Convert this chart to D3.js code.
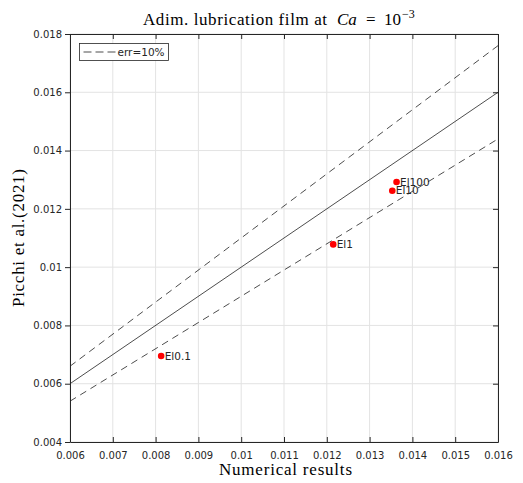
<!DOCTYPE html>
<html>
<head>
<meta charset="utf-8">
<script src="https://cdn.jsdelivr.net/npm/d3@7"></script>
<style>
  body { margin: 0; background: #fff; }
  svg { display: block; }
</style>
</head>
<body>
<div id="chart"></div>
<script>
// data
const caseLabels = ['El0.1', 'El1', 'El10', 'El100'];
const numericalResults = [0.00813, 0.01215, 0.01353, 0.01363];
const picchiResults = [0.00695, 0.01078, 0.01262, 0.01292];
const xTicks = [0.006, 0.007, 0.008, 0.009, 0.01, 0.011, 0.012, 0.013, 0.014, 0.015, 0.016];
const yTicks = [0.004, 0.006, 0.008, 0.01, 0.012, 0.014, 0.016, 0.018];
const errBand = 0.1;

const width = 523, height = 483;
const margin = { top: 34, right: 25, bottom: 41, left: 70 };
const innerW = width - margin.left - margin.right;
const innerH = height - margin.top - margin.bottom;
const axisColor = '#262626';
const tickFont = 'DejaVu Sans, sans-serif';
const serifFont = 'Liberation Serif, DejaVu Serif, serif';

const svg = d3.select('#chart').append('svg')
  .attr('width', width)
  .attr('height', height);

const g = svg.append('g')
  .attr('transform', `translate(${margin.left},${margin.top})`);

const x = d3.scaleLinear().domain([0.006, 0.016]).range([0, innerW]);
const y = d3.scaleLinear().domain([0.004, 0.018]).range([innerH, 0]);

// grid
g.append('g').selectAll('line').data(xTicks).enter().append('line')
  .attr('x1', d => x(d)).attr('x2', d => x(d))
  .attr('y1', 0).attr('y2', innerH)
  .attr('stroke', '#e3e3e3').attr('stroke-width', 1);
g.append('g').selectAll('line').data(yTicks).enter().append('line')
  .attr('y1', d => y(d)).attr('y2', d => y(d))
  .attr('x1', 0).attr('x2', innerW)
  .attr('stroke', '#e3e3e3').attr('stroke-width', 1);

// reference lines y = x and +/- 10%
const xs = x.domain();
const line = d3.line().x(d => x(d[0])).y(d => y(d[1]));
g.append('path')
  .datum(xs.map(v => [v, v]))
  .attr('d', line).attr('fill', 'none')
  .attr('stroke', '#000').attr('stroke-width', 0.7);
[1 + errBand, 1 - errBand].forEach(k => {
  g.append('path')
    .datum(xs.map(v => [v, v * k]))
    .attr('d', line).attr('fill', 'none')
    .attr('stroke', '#000').attr('stroke-width', 0.7)
    .attr('stroke-dasharray', '7,5');
});

// axes
const fmt = d => String(+d.toFixed(4));
const xAxis = g.append('g')
  .attr('transform', `translate(0,${innerH})`)
  .call(d3.axisBottom(x).tickValues(xTicks).tickFormat(fmt).tickSizeInner(-5).tickSizeOuter(0).tickPadding(10));
const xTop = g.append('g')
  .call(d3.axisTop(x).tickValues(xTicks).tickFormat('').tickSizeInner(-5).tickSizeOuter(0));
const yAxis = g.append('g')
  .call(d3.axisLeft(y).tickValues(yTicks).tickFormat(fmt).tickSizeInner(5).tickSizeOuter(0).tickPadding(3));
const yRight = g.append('g')
  .attr('transform', `translate(${innerW},0)`)
  .call(d3.axisRight(y).tickValues(yTicks).tickFormat('').tickSizeInner(-5).tickSizeOuter(0));

[xAxis, xTop, yAxis, yRight].forEach(a => {
  a.select('.domain').attr('stroke', axisColor).attr('stroke-width', 1);
  a.selectAll('.tick line').attr('stroke', axisColor).attr('stroke-width', 1);
  a.selectAll('.tick text')
    .attr('fill', axisColor)
    .style('font-family', tickFont)
    .style('font-size', '10px');
});
xAxis.selectAll('.tick text').attr('dy', '0.71em');

// points
const points = caseLabels.map((c, i) => ({ c, nx: numericalResults[i], py: picchiResults[i] }));
g.append('g').selectAll('circle')
  .data(points)
  .enter().append('circle')
  .attr('cx', d => x(d.nx))
  .attr('cy', d => y(d.py))
  .attr('r', 3.3)
  .attr('fill', '#ff0000');

g.append('g').selectAll('text')
  .data(points)
  .enter().append('text')
  .attr('x', d => x(d.nx) + 3.5)
  .attr('y', d => y(d.py))
  .attr('dy', '0.35em')
  .attr('fill', axisColor)
  .style('font-family', tickFont)
  .style('font-size', '10.5px')
  .text(d => d.c);

// legend
const lg = g.append('g').attr('transform', 'translate(9.5,9.5)');
lg.append('rect')
  .attr('width', 89).attr('height', 17)
  .attr('fill', '#fff').attr('stroke', axisColor).attr('stroke-width', 0.8);
lg.append('line')
  .attr('x1', 4).attr('x2', 37).attr('y1', 8.5).attr('y2', 8.5)
  .attr('stroke', '#000').attr('stroke-width', 0.7)
  .attr('stroke-dasharray', '8,4');
lg.append('text')
  .attr('x', 38).attr('y', 8.5).attr('dy', '0.35em')
  .attr('fill', axisColor)
  .style('font-family', tickFont)
  .style('font-size', '10.5px')
  .text('err=10%');

// title (LaTeX-style, wide serif)
const title = svg.append('text')
  .attr('y', 25)
  .attr('fill', '#000')
  .style('font-family', serifFont)
  .style('font-size', '17px');
title.append('tspan').attr('x', 143)
  .attr('textLength', 184).attr('lengthAdjust', 'spacing')
  .text('Adim. lubrication film at');
title.append('tspan').attr('x', 337).style('font-style', 'italic').text('Ca');
title.append('tspan').attr('x', 366).text('=');
title.append('tspan').attr('x', 384).text('10');
title.append('tspan').attr('x', 402).attr('dy', -7).style('font-size', '12px').text('\u22123');

svg.append('text')
  .attr('x', 219)
  .attr('y', 475)
  .attr('textLength', 133).attr('lengthAdjust', 'spacing')
  .attr('fill', '#000')
  .style('font-family', serifFont)
  .style('font-size', '17px')
  .text('Numerical results');

svg.append('text')
  .attr('transform', `translate(24,${margin.top + innerH / 2 + 69}) rotate(-90)`)
  .attr('textLength', 138).attr('lengthAdjust', 'spacing')
  .attr('fill', '#000')
  .style('font-family', serifFont)
  .style('font-size', '17px')
  .text('Picchi et al.(2021)');
</script>
</body>
</html>
